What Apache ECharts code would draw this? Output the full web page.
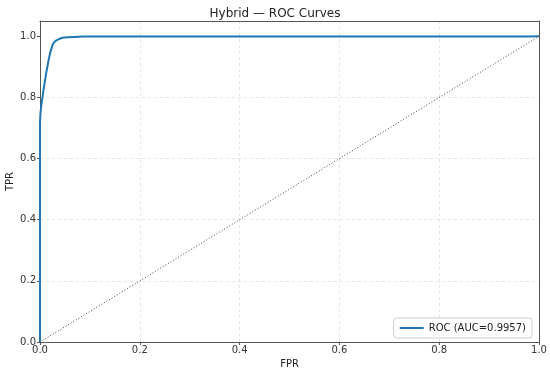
<!DOCTYPE html>
<html><head><meta charset="utf-8">
<script src="https://cdn.jsdelivr.net/npm/echarts@6/dist/echarts.min.js"></script>
<style>html,body{margin:0;padding:0;background:#fff}#c{width:550px;height:375px}</style>
</head><body><div id="c"></div>
<script>
const titleText = "Hybrid — ROC Curves";
const seriesName = "ROC (AUC=0.9957)";
const fpr = [0, 0, 0.001, 0.003, 0.005, 0.007, 0.010, 0.013, 0.017, 0.021, 0.026, 0.031, 0.038, 0.045, 0.055, 0.07, 0.085, 0.2, 0.5, 0.8, 0.98, 1.0];
const tpr = [0, 0.72, 0.75, 0.78, 0.80, 0.825, 0.855, 0.885, 0.92, 0.95, 0.975, 0.985, 0.991, 0.995, 0.997, 0.998, 0.999, 0.999, 0.999, 0.999, 0.9995, 1.0];
const diagX = [0, 1];
const diagY = [0, 1];

const font = 'DejaVu Sans';
const chart = echarts.init(document.getElementById('c'), null, {renderer: 'canvas'});
const frameAxis = {
  axisLine: {show: true, onZero: false, lineStyle: {color: '#555'}},
  axisTick: {show: false}, axisLabel: {show: false}, splitLine: {show: false}
};
chart.setOption({
  animation: false,
  title: {text: titleText, left: 'center', top: 3, textStyle: {fontFamily: font, fontSize: 12, fontWeight: 'normal', color: '#222'}},
  grid: {left: 40, right: 11, top: 21, bottom: 33, containLabel: false, outerBoundsMode: 'none'},
  legend: {
    data: [{name: seriesName, icon: 'rect'}],
    right: 18, bottom: 37, orient: 'vertical',
    itemWidth: 24, itemHeight: 2,
    textStyle: {fontFamily: font, fontSize: 10, color: '#222'},
    borderColor: '#ccc', borderWidth: 1, borderRadius: 3, padding: [5, 6, 5, 6], backgroundColor: '#fff'
  },
  xAxis: [{
    type: 'value', min: 0, max: 1, interval: 0.2, position: 'bottom',
    name: 'FPR', nameLocation: 'middle', nameGap: 17, nameMoveOverlap: false,
    nameTextStyle: {fontFamily: font, fontSize: 10, color: '#222'},
    axisLine: {show: true, onZero: false, lineStyle: {color: '#555'}},
    axisTick: {show: true, length: 3, lineStyle: {color: '#555'}},
    axisLabel: {fontFamily: font, fontSize: 10, color: '#333', margin: 3, formatter: v => v.toFixed(1)},
    splitLine: {show: true, lineStyle: {color: '#ddd', type: [3, 3], width: 0.8}}
  }, Object.assign({type: 'value', min: 0, max: 1, position: 'top'}, frameAxis)],
  yAxis: [{
    type: 'value', min: 0, max: 1.05, interval: 0.2, position: 'left',
    name: 'TPR', nameLocation: 'middle', nameGap: 25, nameMoveOverlap: false,
    nameTextStyle: {fontFamily: font, fontSize: 10, color: '#222'},
    axisLine: {show: true, onZero: false, lineStyle: {color: '#555'}},
    axisTick: {show: true, length: 3, lineStyle: {color: '#555'}, customValues: [0, 0.2, 0.4, 0.6, 0.8, 1.0]},
    axisLabel: {fontFamily: font, fontSize: 10, color: '#333', margin: 4, showMaxLabel: false, formatter: v => (v > 1.01 ? '' : v.toFixed(1))},
    splitLine: {show: true, showMaxLine: false, lineStyle: {color: '#ddd', type: [3, 3], width: 0.8}}
  }, Object.assign({type: 'value', min: 0, max: 1.05, position: 'right'}, frameAxis)],
  series: [
    {
      name: seriesName, type: 'line', showSymbol: false, symbol: 'none',
      data: fpr.map((x, i) => [x, tpr[i]]),
      lineStyle: {color: '#1f77b4', width: 2}, itemStyle: {color: '#1f77b4'}, z: 3
    },
    {
      name: 'diag', type: 'line', showSymbol: false, symbol: 'none',
      data: diagX.map((x, i) => [x, diagY[i]]),
      lineStyle: {color: '#444', width: 1, type: [1, 2]}, z: 2
    }
  ]
});
</script></body></html>
